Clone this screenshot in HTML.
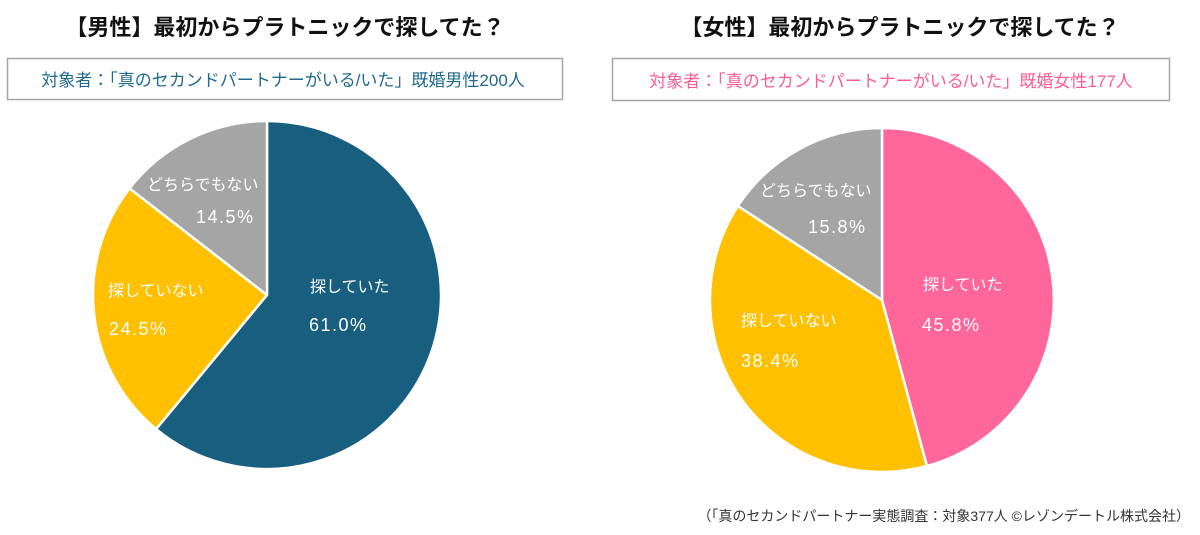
<!DOCTYPE html>
<html><head><meta charset="utf-8"><style>
body{margin:0;background:#fff;}
svg text{font-family:"Liberation Sans","Noto Sans CJK JP",sans-serif;}
</style></head><body>
<svg width="1200" height="530" viewBox="0 0 1200 530" xmlns="http://www.w3.org/2000/svg">
<rect width="1200" height="530" fill="#fff"/>
<text x="285" y="35" font-size="22" font-weight="bold" fill="#111" text-anchor="middle">【男性】最初からプラトニックで探してた？</text>
<text x="900" y="35" font-size="22" font-weight="bold" fill="#111" text-anchor="middle">【女性】最初からプラトニックで探してた？</text>
<rect x="7.5" y="58.5" width="555" height="41" fill="#fff" stroke="#a6a6a6" stroke-width="1.5"/>
<text x="283" y="86" font-size="17" fill="#1f6a8e" text-anchor="middle">対象者：「真のセカンドパートナーがいる/いた」既婚男性200人</text>
<rect x="612.5" y="58.5" width="557" height="42" fill="#fff" stroke="#a6a6a6" stroke-width="1.5"/>
<text x="891" y="87" font-size="17" fill="#ff5c93" text-anchor="middle">対象者：「真のセカンドパートナーがいる/いた」既婚女性177人</text>

<g stroke="#fff" stroke-width="2.5" stroke-linejoin="round">
<path d="M267 295 L267 121 A174 174 0 1 1 156.1 429.1 Z" fill="#175e7f"/>
<path d="M267 295 L156.1 429.1 A174 174 0 0 1 129.5 188.4 Z" fill="#ffc000"/>
<path d="M267 295 L129.5 188.4 A174 174 0 0 1 267 121 Z" fill="#a5a5a5"/>
<path d="M882 300 L882 128 A172 172 0 0 1 926.9 466 Z" fill="#ff6699"/>
<path d="M882 300 L926.9 466 A172 172 0 0 1 737.9 206 Z" fill="#ffc000"/>
<path d="M882 300 L737.9 206 A172 172 0 0 1 882 128 Z" fill="#a5a5a5"/>
</g>

<g fill="#fff" font-size="16">
<text x="310" y="292">探していた</text>
<text x="108" y="296">探していない</text>
<text x="147" y="190">どちらでもない</text>
<text x="923" y="290">探していた</text>
<text x="741" y="326">探していない</text>
<text x="760" y="196">どちらでもない</text>
</g>
<g fill="#fff" font-size="18" letter-spacing="1.5">
<text x="309" y="331">61.0%</text>
<text x="109" y="335">24.5%</text>
<text x="196" y="223">14.5%</text>
<text x="922" y="331">45.8%</text>
<text x="741" y="367">38.4%</text>
<text x="808" y="233">15.8%</text>
</g>
<text x="1190" y="521" font-size="14" fill="#333" text-anchor="end">（「真のセカンドパートナー実態調査：対象377人 ©レゾンデートル株式会社）</text>
</svg>
</body></html>
